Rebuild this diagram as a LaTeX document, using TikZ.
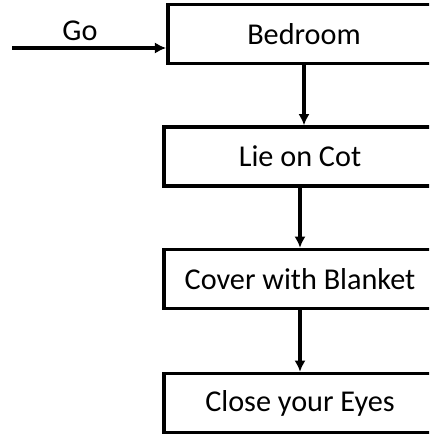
\documentclass[tikz,border=0pt]{standalone}
\usepackage{fontspec}
\setmainfont{Carlito}
\usetikzlibrary{positioning}
\usetikzlibrary{arrows.meta}

\begin{document}
\begin{tikzpicture}[x=0.025cm,y=-0.025cm,
stepbox/.style={rectangle,draw,line width=2.6pt,minimum width=6.8cm,minimum height=1.47cm,font=\fontsize{21.5}{25}\selectfont},
golabel/.style={font=\fontsize{21.5}{25}\selectfont},
flow/.style={line width=2.2pt,-{Latex[length=8pt,width=8pt]}}]
\useasboundingbox (0,0) rectangle (429,434);
\clip (0,0) rectangle (429,434);

\node [stepbox] (bedroom) at (304,34) {Bedroom};
\node [stepbox] (lieoncot) at (300,156.5) {Lie on Cot};
\node [stepbox] (cover) at (300,279) {Cover with Blanket};
\node [stepbox] (closeeyes) at (300,403) {Close your Eyes};

\coordinate (start) at (12,48);
\node [golabel] (go) at (80,31) {Go};

\draw [flow] (start)--(start -| bedroom.west);
\draw [flow] (bedroom.south)--(bedroom.south |- lieoncot.north);
\draw [flow] (lieoncot.south)--(cover.north);
\draw [flow] (cover.south)--(closeeyes.north);
\end{tikzpicture}
\end{document}
